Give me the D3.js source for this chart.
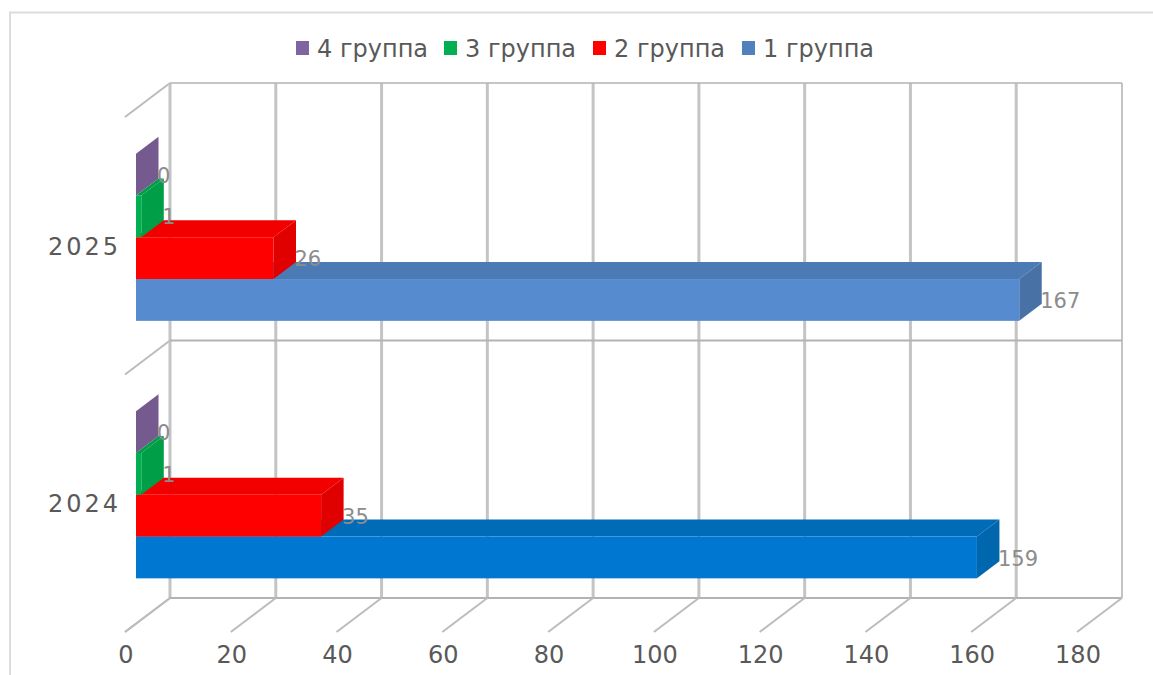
<!DOCTYPE html>
<html>
<head>
<meta charset="utf-8">
<script src="https://cdn.jsdelivr.net/npm/d3@7"></script>
<style>
html, body { margin: 0; padding: 0; background: #fff; }
text { font-family: "DejaVu Sans", sans-serif; }
</style>
</head>
<body>
<div id="chart-area"></div>
<script>
var years = ["2025", "2024"];
var seriesNames = ["4 группа", "3 группа", "2 группа", "1 группа"];
var legendColours = ["#8064a2", "#00b050", "#ff0000", "#4f81bd"];
var group4 = [0, 0];
var group3 = [1, 1];
var group2 = [26, 35];
var group1 = [167, 159];
var xTicks = [0, 20, 40, 60, 80, 100, 120, 140, 160, 180];

var width = 1153, height = 675;
var svg = d3.select("#chart-area").append("svg")
    .attr("width", width)
    .attr("height", height)
    .style("display", "block");

// frame of the chart, only top and left show in the shot
svg.append("path")
    .attr("d", "M10,675V12.5H1153")
    .attr("fill", "none")
    .attr("stroke", "#dcdcdc")
    .attr("stroke-width", 2);

var depth = { dx: 45, dy: -34 };      // floor depth
var barDepth = { dx: 22.5, dy: -17 }; // bar depth

var x = d3.scaleLinear().domain([0, 180]).range([136, 1088]);
var yWall = d3.scaleBand().domain(years).range([83, 598]);
var yFront = d3.scaleBand().domain(years).range([108.5, 623.5]);
var ySeries = d3.scaleBand().domain(seriesNames)
    .range([0, yFront.bandwidth()])
    .paddingInner(0).paddingOuter(1.08);

// x of a value on the back wall and on the floor's front edge
function backX(v) { return x(v) + 34; }
function frontX(v) { return x(v) - 10.5; }

var wall = svg.append("g").attr("fill", "none");
var wallLevels = [yWall(years[0]), yWall(years[1]), yWall(years[1]) + yWall.bandwidth()];

// left side wall ticks
wall.selectAll(".wall-side").data(wallLevels).enter().append("line")
    .attr("x1", backX(0)).attr("x2", backX(0) + depth.dx * -1)
    .attr("y1", function(d) { return d; }).attr("y2", function(d) { return d - depth.dy; })
    .attr("stroke", "#bcbcbc").attr("stroke-width", 2);

// vertical gridlines
wall.selectAll(".grid-v").data(xTicks).enter().append("line")
    .attr("x1", backX).attr("x2", backX)
    .attr("y1", 83).attr("y2", 598)
    .attr("stroke", "#c4c4c4")
    .attr("stroke-width", function(d) { return d === 180 ? 2 : 3; });

wall.selectAll(".wall-h").data(wallLevels).enter().append("line")
    .attr("x1", backX(0)).attr("x2", backX(180))
    .attr("y1", function(d) { return d; }).attr("y2", function(d) { return d; })
    .attr("stroke", "#b3b3b3")
    .attr("stroke-width", function(d, i) { return i === 0 ? 1.5 : 2; });

// floor lines
wall.selectAll(".grid-f").data(xTicks).enter().append("line")
    .attr("x1", backX).attr("x2", function(d) { return backX(d) + depth.dx * -1; })
    .attr("y1", 598).attr("y2", 598 - depth.dy)
    .attr("stroke", "#bcbcbc").attr("stroke-width", 2);

var rows = [
    { name: seriesNames[0], values: group4, front: ["#8064a2", "#8064a2"], top: ["#755a90", "#755a90"], side: ["#755a90", "#755a90"] },
    { name: seriesNames[1], values: group3, front: ["#00b050", "#00b050"], top: ["#009e46", "#009e46"], side: ["#009e46", "#009e46"] },
    { name: seriesNames[2], values: group2, front: ["#ff0000", "#ff0000"], top: ["#f20000", "#f20000"], side: ["#e00000", "#e00000"] },
    { name: seriesNames[3], values: group1, front: ["#568ccf", "#0078d2"], top: ["#4c7ab5", "#006cb8"], side: ["#4872a5", "#0066ad"] }
];

function poly(points) {
    return points.map(function(p) { return p.join(","); }).join(" ");
}

var barH = ySeries.bandwidth();

years.forEach(function(year, yi) {
    var gYear = svg.append("g").attr("class", "year-" + year);

    // lowest bar first, the next one up hides its top face
    rows.slice().reverse().forEach(function(row) {
        var v = row.values[yi];
        var x0 = x(0), x1 = x(v);
        var y0 = yFront(year) + ySeries(row.name), y1 = y0 + barH;

        gYear.append("polygon")
            .attr("points", poly([[x0, y0], [x0 + barDepth.dx, y0 + barDepth.dy], [x1 + barDepth.dx, y0 + barDepth.dy], [x1, y0]]))
            .attr("fill", row.top[yi]);
        gYear.append("polygon")
            .attr("points", poly([[x1, y0], [x1 + barDepth.dx, y0 + barDepth.dy], [x1 + barDepth.dx, y1 + barDepth.dy], [x1, y1]]))
            .attr("fill", row.side[yi]);
        gYear.append("rect")
            .attr("x", x0).attr("y", y0)
            .attr("width", x1 - x0).attr("height", barH)
            .attr("fill", row.front[yi]);
    });

    // labels go on top of all the bars
    rows.forEach(function(row) {
        var v = row.values[yi];
        gYear.append("text")
            .attr("x", x(v) + 21)
            .attr("y", yFront(year) + ySeries(row.name) + 29)
            .attr("font-size", "21px")
            .attr("fill", "#8c8c8c")
            .text(v);
    });
});

// value axis, labels sit under the floor's front edge
var xAxis = d3.axisBottom(d3.scaleLinear().domain([0, 180]).range([frontX(0), frontX(180)]))
    .tickValues(xTicks).tickSize(0).tickPadding(0);
var xAxisG = svg.append("g")
    .attr("transform", "translate(0,646)")
    .call(xAxis);
xAxisG.select(".domain").remove();
xAxisG.selectAll("text")
    .attr("font-size", "24px")
    .attr("fill", "#595959")
    .style("font-family", '"DejaVu Sans", sans-serif');

// category labels
svg.selectAll(".cat").data(years).enter().append("text")
    .attr("class", "cat")
    .attr("x", 121)
    .attr("y", function(d) { return yWall(d) + yWall.bandwidth() / 2 + 43; })
    .attr("text-anchor", "end")
    .attr("font-size", "24px")
    .attr("letter-spacing", "3px")
    .attr("fill", "#595959")
    .text(function(d) { return d; });

// legend
var legendX = [296, 444, 593, 742];
var legend = svg.append("g");
seriesNames.forEach(function(name, i) {
    legend.append("rect")
        .attr("x", legendX[i]).attr("y", 41)
        .attr("width", 13).attr("height", 14)
        .attr("fill", legendColours[i]);
    legend.append("text")
        .attr("x", legendX[i] + 21).attr("y", 56.5)
        .attr("font-size", "24px")
        .attr("fill", "#595959")
        .text(name);
});
</script>
</body>
</html>
